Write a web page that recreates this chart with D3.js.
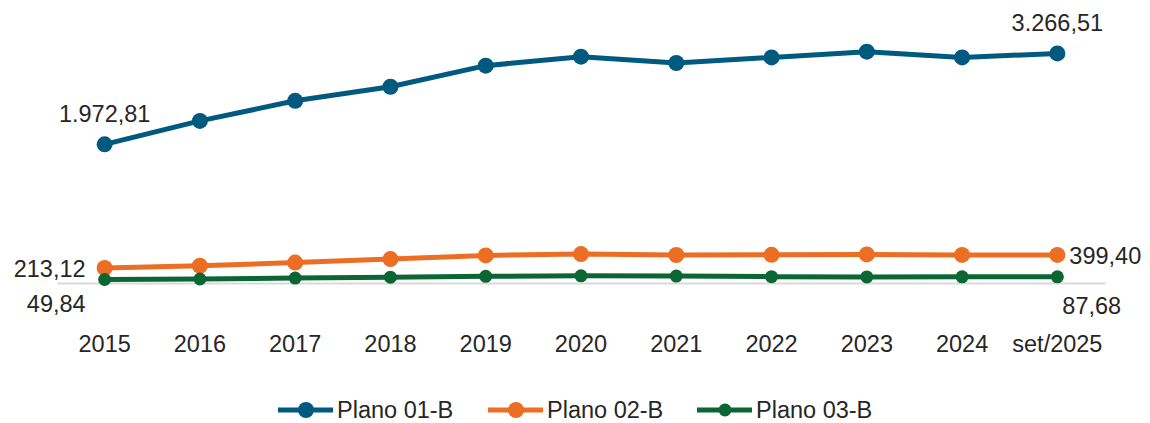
<!DOCTYPE html>
<html lang="pt">
  <head>
    <meta charset="utf-8">
    <title>Planos</title>
    <script src="https://cdn.jsdelivr.net/npm/d3@7"></script>
    <style>
      body { margin: 0; background: #fff; }
      svg text { font-family: "Liberation Sans", Arial, sans-serif; fill: #262626; }
    </style>
  </head>
  <body>
    <svg id="chart" width="1150" height="423"></svg>
    <script type="text/javascript">
    // data
    var categories = ['2015','2016','2017','2018','2019','2020','2021','2022','2023','2024','set/2025'];
    var plano01 = [1972.81, 2306, 2592, 2792, 3092, 3220, 3130, 3210, 3291, 3210, 3266.51];
    var plano02 = [213.12, 245, 290, 340, 392, 412, 398, 401, 406, 400, 399.40];
    var plano03 = [49.84, 57, 70, 83, 95, 102, 99, 90, 86, 88, 87.68];
    var seriesNames = ['Plano 01-B', 'Plano 02-B', 'Plano 03-B'];
    var colors = ['#005a80', '#eb6e24', '#0b6633'];

    var series = [plano01, plano02, plano03];
    var svg = d3.select('#chart');
    var fontSize = 23.5;

    var x = d3.scaleBand().domain(categories).range([57, 1105]);
    var y = d3.scaleLinear().domain([0, 3500]).range([283, 37]);
    var cx = function(i) { return x(categories[i]) + x.bandwidth() / 2; };

    // x axis
    var axis = svg.append('g')
      .attr('transform', 'translate(0,' + y(0) + ')')
      .call(d3.axisBottom(x).tickSize(0).tickPadding(52));
    axis.select('.domain').attr('stroke', '#d9d9d9').attr('stroke-width', 2);
    axis.selectAll('text').attr('font-size', fontSize).attr('font-family', '"Liberation Sans", Arial, sans-serif').attr('fill', '#262626');

    var line = d3.line()
      .x(function(d, i) { return cx(i); })
      .y(function(d) { return y(d); });

    var radius = [8, 8, 6.5];
    var widths = [5, 5, 5];

    series.forEach(function(vals, k) {
      svg.append('path')
        .datum(vals)
        .attr('fill', 'none')
        .attr('stroke', colors[k])
        .attr('stroke-width', widths[k])
        .attr('stroke-linejoin', 'round')
        .attr('d', line);
      svg.append('g').selectAll('circle').data(vals).enter()
        .append('circle')
        .attr('cx', function(d, i) { return cx(i); })
        .attr('cy', function(d) { return y(d); })
        .attr('r', radius[k])
        .attr('fill', colors[k]);
    });

    // value labels for first and last points
    var ptBR = d3.formatLocale({decimal: ',', thousands: '.', grouping: [3], currency: ['', '']});
    var fmt = ptBR.format(',.2f');
    var last = categories.length - 1;
    var labels = [
      {v: plano01[0], x: cx(0), y: y(plano01[0]) - 22, anchor: 'middle'},
      {v: plano01[last], x: cx(last), y: y(plano01[last]) - 22, anchor: 'middle'},
      {v: plano02[0], x: cx(0) - 19, y: y(plano02[0]) + 9, anchor: 'end'},
      {v: plano02[last], x: cx(last) + 12, y: y(plano02[last]) + 9, anchor: 'start'},
      {v: plano03[0], x: cx(0) - 19, y: y(0) + 29, anchor: 'end'},
      {v: plano03[last], x: cx(last) + 5, y: y(0) + 31, anchor: 'start'}
    ];
    svg.append('g').selectAll('text').data(labels).enter()
      .append('text')
      .attr('x', function(d) { return d.x; })
      .attr('y', function(d) { return d.y; })
      .attr('text-anchor', function(d) { return d.anchor; })
      .attr('font-size', fontSize)
      .text(function(d) { return fmt(d.v); });

    // legend
    var legendX = [278, 488, 697];
    var legend = svg.append('g').selectAll('g').data(seriesNames).enter()
      .append('g')
      .attr('transform', function(d, i) { return 'translate(' + legendX[i] + ',410)'; });
    legend.append('line')
      .attr('x1', 0).attr('x2', 55).attr('y1', 0).attr('y2', 0)
      .attr('stroke', function(d, i) { return colors[i]; })
      .attr('stroke-width', 5);
    legend.append('circle')
      .attr('cx', 28).attr('cy', 0)
      .attr('r', function(d, i) { return radius[i]; })
      .attr('fill', function(d, i) { return colors[i]; });
    legend.append('text')
      .attr('x', 59).attr('y', 8)
      .attr('font-size', fontSize)
      .text(function(d) { return d; });
    </script>
  </body>
</html>
